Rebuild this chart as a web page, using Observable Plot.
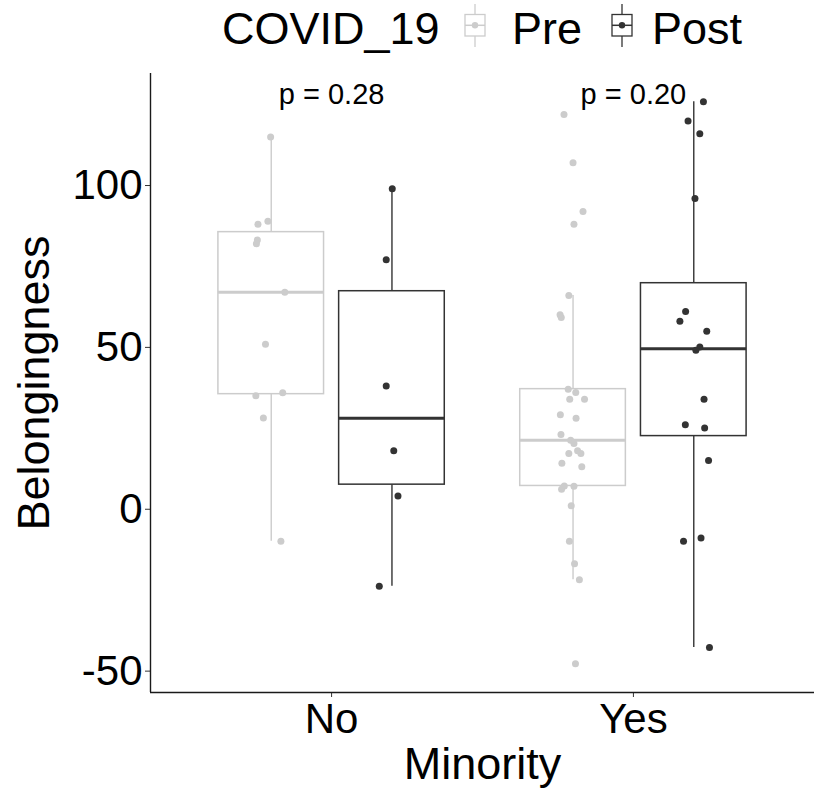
<!DOCTYPE html>
<html>
<head>
<meta charset="utf-8">
<script src="https://cdn.jsdelivr.net/npm/d3@7"></script>
<script src="https://cdn.jsdelivr.net/npm/@observablehq/plot@0.6"></script>
<style>
  body { margin: 0; background: #fff; font-family: "Liberation Sans", Arial, Helvetica, sans-serif; }
  #legend svg, #chart svg { display: block; }
</style>
</head>
<body>
<div id="legend"></div>
<div id="chart"></div>
<script>
// ---------------- data ----------------
const minority = ["No", "Yes"];
const covid = ["Pre", "Post"];
const legendTitle = "COVID_19";
const xTitle = "Minority";
const yTitle = "Belongingness";
const yTicks = [-50, 0, 50, 100];
const pLabels = ["p = 0.28", "p = 0.20"];
const pLabelY = 128;

const noPre  = [115, 88, 89, 83.2, 82, 67, 51, 35.1, 36, 28.2, -9.9];
const noPreJitter  = [-0.002, -0.044, -0.011, -0.046, -0.049, 0.045, -0.019, -0.051, 0.038, -0.026, 0.032];
const noPost = [99, 77.1, 38.1, 18.1, 4.1, -23.8];
const noPostJitter = [0.001, -0.019, -0.019, 0.006, 0.020, -0.042];
const yesPre = [121.9, 107, 92, 88, 66, 60.1, 59.2, 37.1, 36.1, 34, 34, 29.2, 28.1, 23.1, 21.3, 20.3, 18.1, 17.2, 17.2, 14.2, 13.1, 7.2, 6.2, 7.1, 1.1, -9.9, -16.8, -21.8, -47.7];
const yesPreJitter = [-0.030, 0.000, 0.033, 0.003, -0.014, -0.043, -0.039, -0.016, 0.009, -0.011, 0.038, -0.042, 0.010, -0.040, -0.008, 0.003, 0.015, -0.014, 0.026, -0.037, 0.029, -0.029, -0.038, 0.003, -0.006, -0.012, 0.005, 0.021, 0.008];
const yesPost = [125.9, 119.9, 116, 96, 61.1, 58.1, 55, 50.1, 49.1, 34, 26.1, 25.1, 15.1, -9.9, -8.9, -42.7];
const yesPostJitter = [0.032, -0.019, 0.020, 0.004, -0.027, -0.046, 0.043, 0.020, 0.007, 0.034, -0.028, 0.036, 0.049, -0.034, 0.024, 0.052];

// ---------------- layout constants ----------------
const colors = ["#cccccc", "#333333"];
const FONT = "Liberation Sans, Arial, Helvetica, sans-serif";
const W = 817, H = 789, LEG = 60;
const dodge = 0.2, boxW = 0.35;
const xDomain = [0.4, 2.6];
const yDomain = [-56.6, 134.6];

// ---------------- build tables ----------------
const groups = [
  {minority: "No",  covid: "Pre",  values: noPre,   jitter: noPreJitter},
  {minority: "No",  covid: "Post", values: noPost,  jitter: noPostJitter},
  {minority: "Yes", covid: "Pre",  values: yesPre,  jitter: yesPreJitter},
  {minority: "Yes", covid: "Post", values: yesPost, jitter: yesPostJitter}
];
const xOf = g => minority.indexOf(g.minority) + 1 + (g.covid === "Pre" ? -dodge : dodge);

const stats = groups.map(g => {
  const v = g.values.slice().sort(d3.ascending);
  const q1 = d3.quantile(v, 0.25), med = d3.quantile(v, 0.5), q3 = d3.quantile(v, 0.75);
  const iqr = q3 - q1;
  const lo = d3.min(v.filter(d => d >= q1 - 1.5 * iqr));
  const hi = d3.max(v.filter(d => d <= q3 + 1.5 * iqr));
  return {covid: g.covid, x: xOf(g), q1, med, q3, lo, hi};
});
const points = groups.flatMap(g => g.values.map((v, i) => ({covid: g.covid, x: xOf(g) + g.jitter[i], v})));
const pData = minority.map((m, i) => ({x: i + 1, y: pLabelY, label: pLabels[i]}));

// ---------------- legend ----------------
const leg = d3.select("#legend").append("svg").attr("width", W).attr("height", LEG)
  .style("font-family", FONT);
leg.append("text").attr("x", 222).attr("y", 44).attr("font-size", 45).text(legendTitle);
const keys = [{cx: 475, tx: 512}, {cx: 622, tx: 652}];
covid.forEach((c, i) => {
  const k = keys[i], g = leg.append("g").attr("stroke", colors[i]).attr("fill", "none");
  g.append("line").attr("x1", k.cx).attr("x2", k.cx).attr("y1", 4).attr("y2", 47).attr("stroke-width", 1.3);
  g.append("rect").attr("x", k.cx - 10).attr("y", 14.5).attr("width", 20).attr("height", 21.5).attr("fill", "#fff").attr("stroke-width", 1.3);
  g.append("line").attr("x1", k.cx - 10).attr("x2", k.cx + 10).attr("y1", 25.3).attr("y2", 25.3).attr("stroke-width", 1.5);
  g.append("circle").attr("cx", k.cx).attr("cy", 25.3).attr("r", 3.2).attr("fill", colors[i]).attr("stroke", "none");
  leg.append("text").attr("x", k.tx).attr("y", 44).attr("font-size", 45).text(c);
});

// ---------------- plot ----------------
const chart = Plot.plot({
  width: W,
  height: H - LEG,
  marginTop: 13,
  marginBottom: 97,
  marginLeft: 150,
  marginRight: 3,
  style: {fontFamily: FONT, fontSize: "42px", color: "#000", background: "#fff"},
  x: {type: "linear", domain: xDomain, label: null},
  y: {domain: yDomain, label: null},
  color: {domain: covid, range: colors},
  marks: [
    Plot.axisY({ticks: yTicks, tickSize: 5, tickPadding: 3, fontSize: 42, label: null, tickFormat: d => String(d), stroke: "#333"}),
    Plot.axisX({ticks: [1, 2], tickSize: 5, tickPadding: 6, fontSize: 42, label: null, tickFormat: d => minority[d - 1], stroke: "#333"}),
    Plot.ruleX([xDomain[0]], {stroke: "#1a1a1a", strokeWidth: 1.4}),
    Plot.ruleY([yDomain[0]], {stroke: "#1a1a1a", strokeWidth: 1.4}),
    Plot.ruleX(stats, {x: "x", y1: "q3", y2: "hi", stroke: "covid", strokeWidth: 1.4}),
    Plot.ruleX(stats, {x: "x", y1: "lo", y2: "q1", stroke: "covid", strokeWidth: 1.4}),
    Plot.rect(stats, {x1: d => d.x - boxW / 2, x2: d => d.x + boxW / 2, y1: "q1", y2: "q3", fill: "#fff", stroke: "covid", strokeWidth: 1.5}),
    Plot.ruleY(stats, {y: "med", x1: d => d.x - boxW / 2, x2: d => d.x + boxW / 2, stroke: "covid", strokeWidth: 3}),
    Plot.dot(points, {x: "x", y: "v", r: 3.5, fill: "covid", stroke: null}),
    Plot.text(pData, {x: "x", y: "y", text: "label", fontSize: 29, fill: "#000"}),
    Plot.text([yTitle], {frameAnchor: "left", textAnchor: "middle", dx: -116, rotate: -90, fontSize: 45, fill: "#000"}),
    Plot.text([xTitle], {frameAnchor: "bottom", dy: 86, fontSize: 45, fill: "#000"})
  ]
});
document.getElementById("chart").appendChild(chart);
</script>
</body>
</html>
